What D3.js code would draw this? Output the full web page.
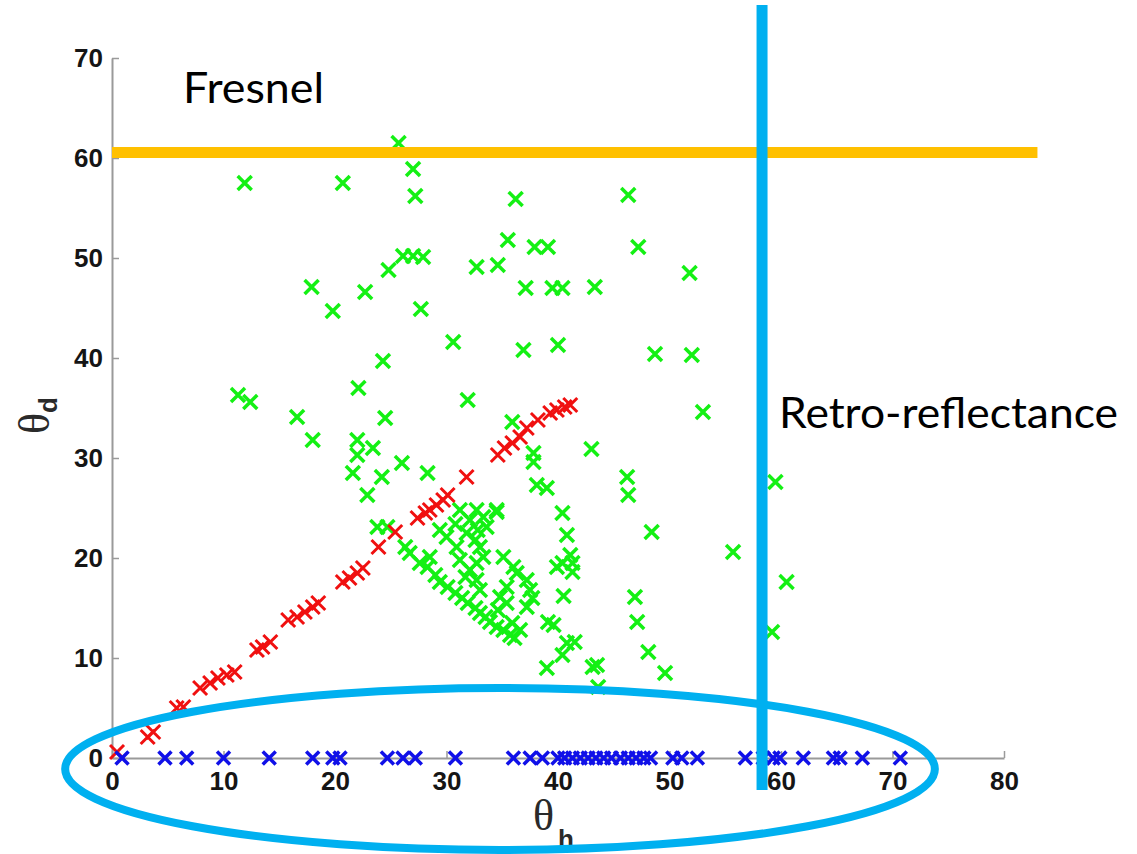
<!DOCTYPE html>
<html>
<head>
<meta charset="utf-8">
<script src="https://cdn.jsdelivr.net/npm/d3@7"></script>
<style>
  body { margin: 0; background: #fff; }
  svg { display: block; }
</style>
</head>
<body>
<script>
// theta_h / theta_d pairs
var greenPts = [
  [11.9,57.5],[20.7,57.5],[25.7,61.5],[27.0,58.9],[27.2,56.2],
  [26.1,50.2],[27.0,50.2],[27.9,50.1],[24.8,48.8],[17.9,47.1],[22.7,46.6],[19.8,44.7],[27.7,44.9],
  [30.6,41.6],[24.3,39.7],[22.1,37.0],
  [36.2,55.9],[46.3,56.3],[35.5,51.8],[37.9,51.1],[39.1,51.1],[47.2,51.1],[32.7,49.1],[34.6,49.3],
  [51.8,48.5],[37.1,47.0],[39.5,47.0],[40.4,47.0],[43.3,47.1],
  [36.9,40.8],[40.0,41.3],[48.7,40.4],[52.0,40.3],
  [11.3,36.3],[12.4,35.6],[31.9,35.8],[16.6,34.1],[24.5,34.0],[18.0,31.8],[22.0,31.8],[22.0,30.3],
  [23.4,31.0],[21.6,28.5],[24.2,28.1],[22.9,26.3],[26.0,29.5],[28.3,28.5],[23.8,23.1],[24.7,23.1],
  [53.0,34.6],[43.0,30.9],[35.9,33.6],[46.2,28.1],[46.3,26.3],[48.4,22.6],[55.7,20.6],[59.5,27.6],
  [60.5,17.6],[59.2,12.6],
  [37.8,30.5],[37.8,29.6],[38.1,27.3],[39.0,27.0],[40.4,24.5],[40.8,22.3],[40.4,19.5],[41.3,19.5],
  [39.9,19.1],[41.1,20.3],[41.3,18.6],[40.5,16.2],
  [46.9,16.1],[47.1,13.6],[48.1,10.6],[49.6,8.5],[40.8,11.5],[41.5,11.6],[40.4,10.3],[43.1,9.1],
  [43.5,9.3],[43.6,7.1],[39.1,13.6],[39.6,13.3],[39.0,9.0],
  [34.5,24.6],[31.2,24.8],
  [26.3,21.1],[26.7,20.5],[27.6,19.5],[28.3,19.1],[29.0,18.3],[29.4,17.6],[30.1,17.1],[30.8,16.5],
  [31.4,16.0],[31.9,15.5],[32.6,15.0],[33.0,14.5],[33.5,14.1],[33.9,13.6],[34.5,13.1],[35.1,12.8],
  [35.7,12.3],[36.1,12.0],[36.6,12.8],[35.9,13.5],
  [32.7,24.8],[33.3,24.1],[33.6,23.1],[32.8,22.8],[32.6,21.8],[33.0,21.1],[33.3,20.1],[32.7,19.5],
  [32.1,18.8],[31.7,18.1],[32.7,17.8],[33.0,16.8],[31.2,19.8],[30.9,21.1],[31.8,22.5],[32.1,23.8],
  [34.5,24.8],[30.0,22.1],[29.4,22.8],[28.5,20.1],[30.8,23.4],
  [35.1,20.1],[36.0,19.1],[36.3,18.5],[35.4,17.1],[34.8,16.1],[35.4,15.5],[37.2,17.8],[37.5,16.8],
  [37.7,16.0],[37.2,15.1],[34.6,14.8]
];

var redPts = [
  [0.45,0.6],[3.2,2.1],[3.7,2.6],[5.8,5.0],[6.4,5.1],[7.9,7.0],[8.8,7.5],[9.5,8.0],[10.3,8.3],
  [11.0,8.6],[13.0,10.8],[13.5,11.1],[14.2,11.6],[15.8,13.8],[16.6,14.1],[17.3,14.6],[18.0,15.1],
  [18.5,15.5],[20.7,17.6],[21.3,18.0],[22.0,18.5],[22.5,19.0],[23.9,21.1],[25.4,22.6],[27.4,24.0],
  [28.1,24.5],[28.5,24.8],[29.1,25.3],[29.7,25.8],[30.1,26.3],[31.8,28.1],[34.6,30.3],[35.2,31.0],
  [35.9,31.5],[36.6,32.1],[37.2,33.0],[38.2,33.8],[39.3,34.5],[39.9,34.8],[40.6,35.1],[41.1,35.3]
];

// blue ones all sit on theta_d = 0
var blueH = [0.9,4.75,6.7,10.0,14.1,18.0,19.8,20.45,24.7,26.1,27.2,30.8,36.0,37.5,38.6,
  40.0,40.6,41.3,42.0,42.7,43.4,44.1,44.8,45.6,46.3,47.0,47.7,48.3,50.3,51.1,52.5,
  56.8,58.4,59.3,59.9,62.0,64.7,65.3,67.3,70.7];

var xTicks = [0,10,20,30,40,50,60,70,80];
var yTicks = [0,10,20,30,40,50,60,70];

// annotation positions (in chart units)
var fresnelD = 60.55;
var retroH = 58.3;
var ovalCenter = [34.8, -1.1], ovalRadius = [39, 8.1];

var width = 1137, height = 854;

var svg = d3.select("body").append("svg")
    .attr("width", width)
    .attr("height", height);

var x = d3.scaleLinear().domain([0, 80]).range([112, 1004]);
var y = d3.scaleLinear().domain([0, 70]).range([758, 58]);

// axes, matlab style ticks pointing inward
var xAxis = svg.append("g")
    .attr("transform", "translate(0," + y(0) + ")")
    .call(d3.axisBottom(x).tickValues(xTicks).tickSizeInner(-7).tickSizeOuter(0).tickPadding(14));
var yAxis = svg.append("g")
    .attr("transform", "translate(" + x(0) + ",0)")
    .call(d3.axisLeft(y).tickValues(yTicks).tickSizeInner(-7).tickSizeOuter(0).tickPadding(9));

[xAxis, yAxis].forEach(function (a) {
    a.select(".domain").attr("stroke", "#9a9a9a").attr("stroke-width", 2);
    a.selectAll(".tick line").attr("stroke", "#9a9a9a").attr("stroke-width", 1.5);
    a.selectAll(".tick text")
        .attr("fill", "#151515")
        .style("font-family", "Liberation Sans, Arial, sans-serif")
        .style("font-weight", "bold")
        .style("font-size", "26px");
});

function cross(s) {
    return "M" + (-s) + "," + (-s) + "L" + s + "," + s + "M" + (-s) + "," + s + "L" + s + "," + (-s);
}

svg.append("g").selectAll("path")
    .data(greenPts)
    .enter().append("path")
    .attr("d", cross(7))
    .attr("transform", function (d) { return "translate(" + x(d[0]) + "," + y(d[1]) + ")"; })
    .attr("stroke", "#14f014")
    .attr("stroke-width", 3.5)
    .attr("fill", "none");

svg.append("g").selectAll("path")
    .data(redPts)
    .enter().append("path")
    .attr("d", cross(7))
    .attr("transform", function (d) { return "translate(" + x(d[0]) + "," + y(d[1]) + ")"; })
    .attr("stroke", "#f01010")
    .attr("stroke-width", 3)
    .attr("fill", "none");

svg.append("g").selectAll("path")
    .data(blueH)
    .enter().append("path")
    .attr("d", cross(6.5))
    .attr("transform", function (d) { return "translate(" + x(d) + "," + y(0) + ")"; })
    .attr("stroke", "#1010e8")
    .attr("stroke-width", 3.5)
    .attr("fill", "none");

// axis titles
var yTitle = svg.append("text")
    .attr("transform", "translate(49,434) rotate(-90)")
    .attr("fill", "#2a2a2a");
yTitle.append("tspan")
    .style("font-family", "Liberation Serif, Times New Roman, serif")
    .style("font-size", "44px")
    .text("θ");
yTitle.append("tspan")
    .attr("dy", 8)
    .style("font-family", "Liberation Sans, Arial, sans-serif")
    .style("font-weight", "bold")
    .style("font-size", "26px")
    .text("d");

var xTitle = svg.append("text")
    .attr("x", 533)
    .attr("y", 830)
    .attr("fill", "#2a2a2a");
xTitle.append("tspan")
    .style("font-family", "Liberation Serif, Times New Roman, serif")
    .style("font-size", "44px")
    .text("θ");
xTitle.append("tspan")
    .attr("dx", 4)
    .attr("dy", 18)
    .style("font-family", "Liberation Sans, Arial, sans-serif")
    .style("font-weight", "bold")
    .style("font-size", "26px")
    .text("h");

// the highlighted regions drawn over the plot
svg.append("line")
    .attr("x1", x(0)).attr("x2", x(83))
    .attr("y1", y(fresnelD)).attr("y2", y(fresnelD))
    .attr("stroke", "#ffc000")
    .attr("stroke-width", 11);

svg.append("ellipse")
    .attr("cx", x(ovalCenter[0]))
    .attr("cy", y(ovalCenter[1]))
    .attr("rx", x(ovalRadius[0]) - x(0))
    .attr("ry", y(0) - y(ovalRadius[1]))
    .attr("fill", "none")
    .attr("stroke", "#00b0f0")
    .attr("stroke-width", 8);

svg.append("line")
    .attr("x1", x(retroH)).attr("x2", x(retroH))
    .attr("y1", y(75.3)).attr("y2", y(-3.2))
    .attr("stroke", "#00b0f0")
    .attr("stroke-width", 11);

svg.append("text")
    .attr("x", 183)
    .attr("y", 103)
    .attr("textLength", 141)
    .attr("lengthAdjust", "spacingAndGlyphs")
    .style("font-family", "Lato, Open Sans, sans-serif")
    .style("font-size", "42px")
    .text("Fresnel");

svg.append("text")
    .attr("x", 779)
    .attr("y", 428)
    .attr("textLength", 339)
    .attr("lengthAdjust", "spacingAndGlyphs")
    .style("font-family", "Lato, Open Sans, sans-serif")
    .style("font-size", "42px")
    .text("Retro-reflectance");
</script>
</body>
</html>
